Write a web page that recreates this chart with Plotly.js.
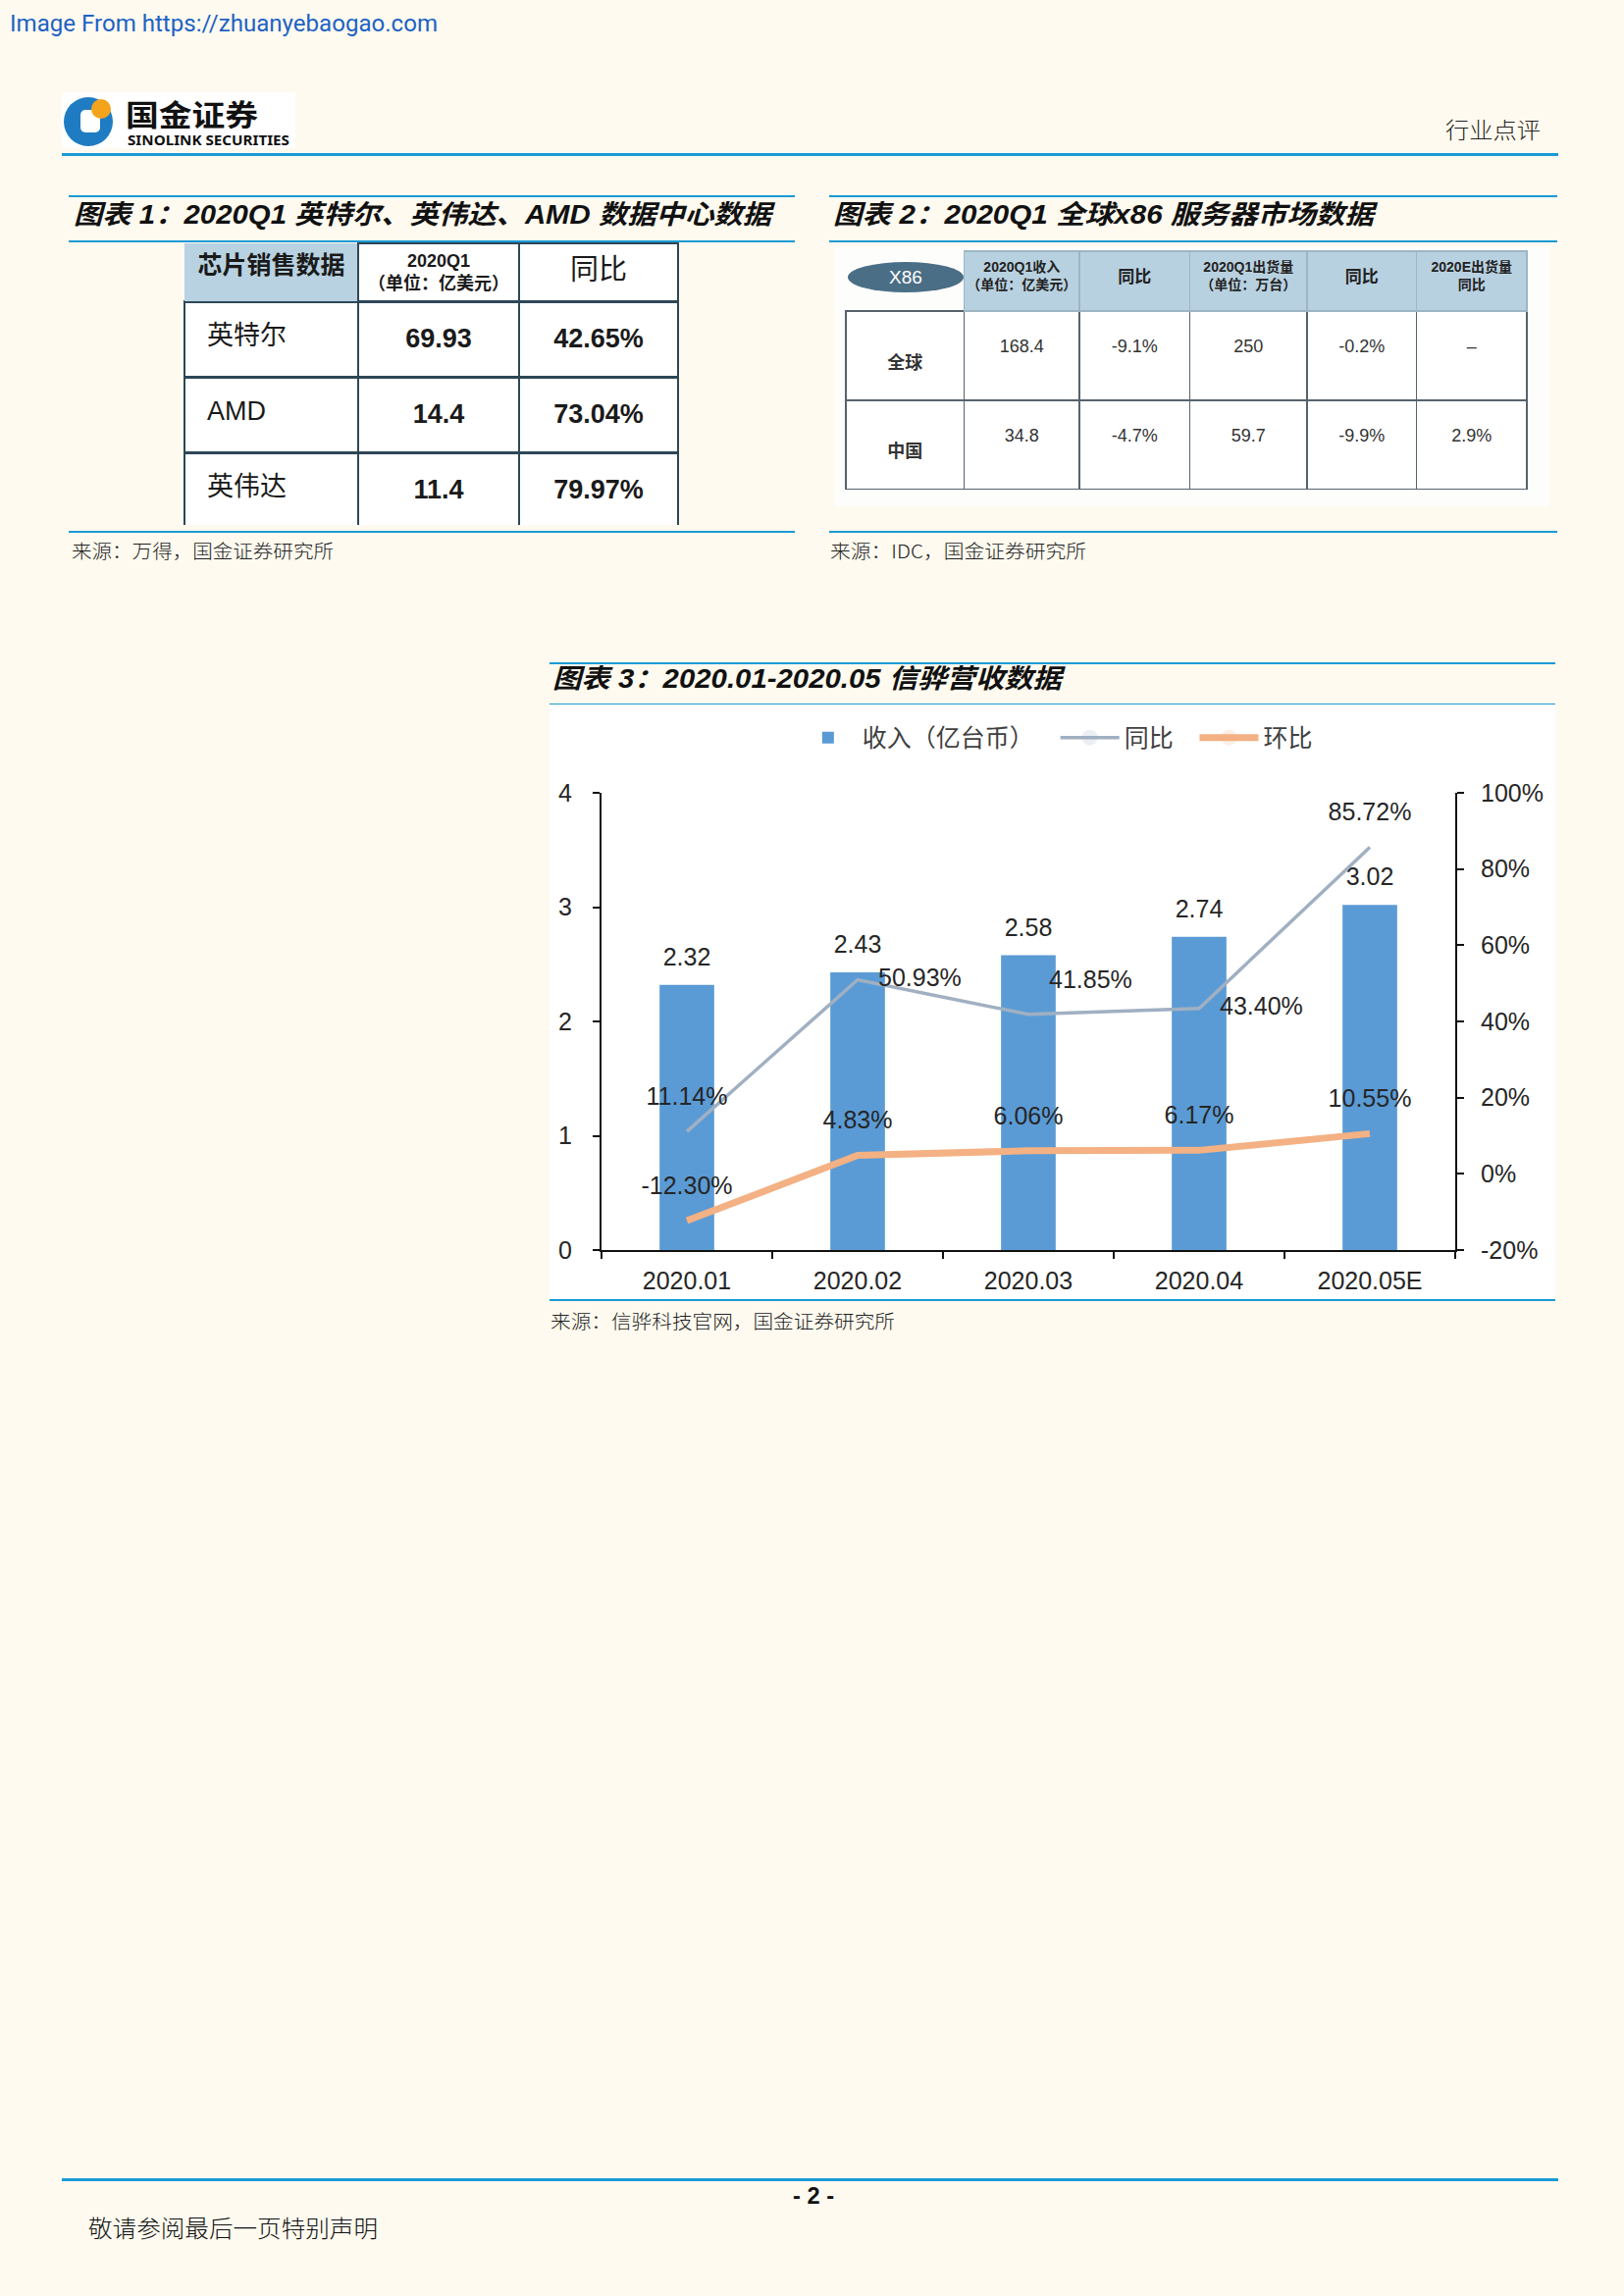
<!DOCTYPE html>
<html>
<head>
<meta charset="utf-8">
<script src="https://cdn.plot.ly/plotly-3.0.1.min.js"></script>
<style>
html,body{margin:0;padding:0;}
body{width:1655px;height:2340px;background:#fefaef;position:relative;overflow:hidden;font-family:"Liberation Sans","Noto Sans CJK SC",sans-serif;}
.t{position:absolute;white-space:nowrap;transform-origin:0 50%;line-height:1.0;z-index:5;}
.rule{position:absolute;background:#1b9ad6;}
.ttl{font-weight:bold;font-style:italic;font-size:27px;color:#111;font-family:"Liberation Sans","Noto Sans CJK SC",sans-serif;}
.src{font-size:19px;color:#222;font-family:"Noto Sans CJK SC",sans-serif;font-weight:300;}
#chart3{position:absolute;left:560px;top:718px;width:1025px;height:606px;}
#tbl1{position:absolute;left:186px;top:246px;width:507px;height:291px;}
#tbl2{position:absolute;left:851px;top:251px;width:728px;height:265px;}
#oval{position:absolute;left:864px;top:267px;width:118px;height:31px;border-radius:50%;background:#4a6e85;color:#fff;font:19px "Liberation Sans Narrow","Liberation Sans",sans-serif;text-align:center;line-height:31px;z-index:6;}
</style>
</head>
<body>
<script>
// ---------- data ----------
const months = ['2020.01', '2020.02', '2020.03', '2020.04', '2020.05E'];
const revenue = [2.32, 2.43, 2.58, 2.74, 3.02];      // 收入（亿台币）
const yoy = [11.14, 50.93, 41.85, 43.40, 85.72];      // 同比 %
const mom = [-12.30, 4.83, 6.06, 6.17, 10.55];        // 环比 %
const seriesNames = ['收入（亿台币）', '同比', '环比'];
const rightTicks = [-20, 0, 20, 40, 60, 80, 100];

const t1Header = ['芯片销售数据', '2020Q1', '同比'];
const t1HeaderUnit = ['', '（单位：亿美元）', ''];
const t1Companies = ['英特尔', 'AMD', '英伟达'];
const t1Revenue = ['69.93', '14.4', '11.4'];
const t1Yoy = ['42.65%', '73.04%', '79.97%'];

const t2Header = ['X86', '2020Q1收入', '同比', '2020Q1出货量', '同比', '2020E出货量'];
const t2HeaderUnit = ['', '（单位：亿美元）', '', '（单位：万台）', '', '同比'];
const t2Regions = ['全球', '中国'];
const t2Revenue = ['168.4', '34.8'];
const t2RevYoy = ['-9.1%', '-4.7%'];
const t2Ship = ['250', '59.7'];
const t2ShipYoy = ['-0.2%', '-9.9%'];
const t2Ship2020E = ['–', '2.9%'];
</script>

<!-- header -->
<div class="t" data-x="10" data-y="24" data-w="436" style="font-family:Roboto,sans-serif;font-size:24px;color:#1d62c4;">Image From https://zhuanyebaogao.com</div>
<div style="position:absolute;left:63px;top:94px;width:238px;height:57px;background:#fff;">
  <svg width="60" height="57" style="position:absolute;left:0;top:0">
    <circle cx="27" cy="30" r="25" fill="#1f7cc2"/>
    <rect x="19" y="18" width="20" height="23" rx="5" fill="#ffffff"/>
    <circle cx="40" cy="17" r="10" fill="#f3a41c"/>
  </svg>
</div>
<div class="t" data-x="128" data-y="115" data-w="135" style="font-family:'Noto Sans CJK SC';font-weight:bold;font-size:30px;color:#111;">国金证券</div>
<div class="t" data-x="130" data-y="143" data-w="165" style="font-family:'Noto Sans';font-weight:bold;font-size:14px;color:#111;">SINOLINK SECURITIES</div>
<div class="t" data-x="1473" data-y="131" data-w="97" style="font-family:'Noto Sans CJK SC';font-weight:300;font-size:23px;color:#222;">行业点评</div>
<div class="rule" style="left:63px;top:156px;width:1525px;height:3px;"></div>

<!-- figure 1 -->
<div class="rule" style="left:70px;top:199px;width:740px;height:2px;"></div>
<div class="t ttl" data-x="75" data-y="219" data-w="711">图表 1：2020Q1 英特尔、英伟达、AMD 数据中心数据</div>
<div class="rule" style="left:70px;top:245px;width:740px;height:2px;"></div>
<div id="tbl1"></div>
<div class="rule" style="left:70px;top:541px;width:740px;height:2px;"></div>
<div class="t src" data-x="73" data-y="560" data-w="267">来源：万得，国金证券研究所</div>

<!-- figure 2 -->
<div class="rule" style="left:845px;top:199px;width:742px;height:2px;"></div>
<div class="t ttl" data-x="849" data-y="219" data-w="551">图表 2：2020Q1 全球x86 服务器市场数据</div>
<div class="rule" style="left:845px;top:245px;width:742px;height:2px;"></div>
<div id="tbl2"></div>
<div id="oval"></div>
<div class="rule" style="left:845px;top:541px;width:742px;height:2px;"></div>
<div class="t src" data-x="846" data-y="560" data-w="261">来源：IDC，国金证券研究所</div>

<!-- figure 3 -->
<div class="rule" style="left:560px;top:675px;width:1025px;height:2px;"></div>
<div class="t ttl" data-x="563" data-y="692" data-w="519">图表 3：2020.01-2020.05 信骅营收数据</div>
<div class="rule" style="left:560px;top:717px;width:1025px;height:2px;"></div>
<div id="chart3"></div>
<div class="rule" style="left:560px;top:1324px;width:1025px;height:2px;"></div>
<div class="t src" data-x="561" data-y="1345" data-w="351">来源：信骅科技官网，国金证券研究所</div>

<!-- footer -->
<div class="rule" style="left:63px;top:2220px;width:1525px;height:3px;"></div>
<div class="t" data-x="808" data-y="2238" data-w="42" style="font-weight:bold;font-size:24px;color:#111;">- 2 -</div>
<div class="t" data-x="90" data-y="2270" data-w="295" style="font-family:'Noto Sans CJK SC';font-weight:300;font-size:24px;color:#111;">敬请参阅最后一页特别声明</div>

<script>
const FONT = "'Liberation Sans', 'Noto Sans CJK SC', sans-serif";
const NARROW = "'Liberation Sans Narrow', 'Liberation Sans', 'Noto Sans CJK SC', sans-serif";
const TXT = '#262626';
const pad = '\u00a0';   // nbsp spacing for legend entries

// ---------- chart 3 ----------
const traces = [
  {
    type: 'bar', name: seriesNames[0] + pad.repeat(3), x: months, y: revenue,
    marker: {color: '#5b9bd5'}, width: 0.32, hoverinfo: 'skip'
  },
  {
    type: 'scatter', mode: 'markers+text', showlegend: false, x: months, y: revenue,
    marker: {size: 20, opacity: 0}, text: revenue.map(v => v.toFixed(2)),
    textposition: 'top center', textfont: {size: 25, color: TXT, family: FONT}, cliponaxis: false
  },
  {
    type: 'scatter', mode: 'lines+markers+text', name: seriesNames[1] + pad.repeat(3), x: months, y: yoy, yaxis: 'y2',
    line: {color: '#a0b0c2', width: 3.5}, marker: {size: 32, opacity: 0},
    text: yoy.map(v => v.toFixed(2) + '%'),
    textposition: ['top center', 'middle right', 'top right', 'middle right', 'top center'],
    textfont: {size: 25, color: TXT, family: FONT}, cliponaxis: false
  },
  {
    type: 'scatter', mode: 'lines+markers+text', name: seriesNames[2], x: months, y: mom, yaxis: 'y2',
    line: {color: '#f4b183', width: 7}, marker: {size: 32, opacity: 0},
    text: mom.map(v => v.toFixed(2) + '%'), textposition: 'top center',
    textfont: {size: 25, color: TXT, family: FONT}, cliponaxis: false
  }
];
const axisCommon = {
  showline: true, linecolor: '#111', linewidth: 2, ticks: 'outside', ticklen: 7, tickwidth: 2,
  tickcolor: '#111', showgrid: false, zeroline: false, tickfont: {size: 25, color: TXT, family: FONT}
};
const layout3 = {
  width: 1025, height: 606, margin: {l: 53, r: 102, t: 89, b: 50},
  paper_bgcolor: '#ffffff', plot_bgcolor: '#ffffff', font: {family: FONT, color: TXT},
  showlegend: true,
  legend: {orientation: 'h', x: 0.532, xanchor: 'center', y: 1.118, yanchor: 'middle',
           font: {size: 25, color: '#404040', family: "'Noto Sans CJK SC', sans-serif"}, itemwidth: 60},
  xaxis: Object.assign({}, axisCommon, {type: 'category', tickson: 'boundaries', ticklabelstandoff: 8}),
  yaxis: Object.assign({}, axisCommon, {range: [0, 4], dtick: 1, ticklabelstandoff: 16}),
  yaxis2: Object.assign({}, axisCommon, {overlaying: 'y', side: 'right', range: [-20, 100],
           tickmode: 'array', tickvals: rightTicks, ticktext: rightTicks.map(v => v + '%'), ticklabelstandoff: 12})
};
Plotly.newPlot('chart3', traces, layout3, {staticPlot: true});

// Plotly tables top-align text and left-align the lines of multi-line cells:
// nudge body texts down and centre each line of multi-line header texts.
function nudge(gd, shifts) {
  gd.querySelectorAll('text.cell-text').forEach(t => {
    if (t.dataset.nudged) return;
    const lines = t.querySelectorAll('tspan.line');
    if (lines.length > 1) {
      const widths = Array.from(lines).map(l => l.getComputedTextLength());
      const maxW = Math.max.apply(null, widths);
      lines.forEach((l, i) => {
        const x0 = parseFloat(l.getAttribute('x') || '0');
        l.setAttribute('x', x0 + (maxW - widths[i]) / 2);
      });
      t.dataset.nudged = '1';
      return;
    }
    const key = t.textContent.replace(/\u00a0/g, '').trim();
    if (shifts.has(key)) {
      t.setAttribute('transform', ((t.getAttribute('transform') || '') + ' translate(0,' + shifts.get(key) + ')').trim());
      t.dataset.nudged = '1';
    }
  });
}

// ---------- table 1 ----------
const b = s => '<b>' + s + '</b>';
const shifts1 = new Map();
t1Companies.concat(t1Revenue, t1Yoy).forEach(s => shifts1.set(s, 15));
shifts1.set(t1Header[2], 7);
Plotly.newPlot('tbl1', [{
  type: 'table',
  columnwidth: [177, 164, 162],
  header: {
    values: t1Header.map((h, i) => i === 1 ? b(h) + '<br>' + b(t1HeaderUnit[i]) : (i === 0 ? b(h) : h)),
    height: 54, align: ['center', 'center', 'center'],
    fill: {color: ['#b8d2e1', '#ffffff', '#ffffff']},
    line: {color: ['rgba(0,0,0,0)', '#2d4756', '#2d4756'], width: 2.5},
    font: {family: FONT, size: [25, 18, 29], color: '#1a1a1a'}
  },
  cells: {
    values: [t1Companies.map(s => '\u00a0\u00a0' + s), t1Revenue.map(b), t1Yoy.map(b)],
    height: 77, align: ['left', 'center', 'center'],
    fill: {color: '#ffffff'},
    line: {color: '#2d4756', width: 2.5},
    font: {family: FONT, size: 27, color: '#1a1a1a'}
  },
  domain: {x: [0, 1], y: [0, 1]}
}], {width: 507, height: 291, margin: {l: 2, r: 2, t: 2, b: 2}, paper_bgcolor: 'rgba(0,0,0,0)'}, {staticPlot: true})
  .then(gd => { nudge(gd, shifts1); setTimeout(() => nudge(gd, shifts1), 200); });

// ---------- table 2 ----------
document.getElementById('oval').textContent = t2Header[0];
const shifts2 = new Map();
t2Regions.forEach(s => shifts2.set(s, 34));
t2Revenue.concat(t2RevYoy, t2Ship, t2ShipYoy, t2Ship2020E).forEach(s => shifts2.set(s, 20));
shifts2.set(t2Header[2], 9);
Plotly.newPlot('tbl2', [{
  type: 'table',
  columnwidth: [120, 117, 112, 119, 111, 112],
  header: {
    values: t2Header.map((h, i) => i === 0 ? '' : (t2HeaderUnit[i] ? b(h) + '<br>' + b(t2HeaderUnit[i]) : b(h))),
    height: 61, align: 'center',
    fill: {color: ['rgba(0,0,0,0)', '#b8d1e0', '#b8d1e0', '#b8d1e0', '#b8d1e0', '#b8d1e0']},
    line: {color: ['rgba(0,0,0,0)', '#9fb5c3', '#9fb5c3', '#9fb5c3', '#9fb5c3', '#9fb5c3'], width: 1.5},
    font: {family: NARROW, size: [19, 14, 17, 14, 17, 14], color: '#222'}
  },
  cells: {
    values: [t2Regions.map(b), t2Revenue, t2RevYoy, t2Ship, t2ShipYoy, t2Ship2020E],
    height: 91, align: 'center',
    fill: {color: '#ffffff'},
    line: {color: '#56636d', width: 1.5},
    font: {family: NARROW, size: 18, color: '#333'}
  }
}], {width: 728, height: 265, margin: {l: 11, r: 23, t: 5, b: 17}, paper_bgcolor: '#fdfdfc'}, {staticPlot: true})
  .then(gd => { nudge(gd, shifts2); setTimeout(() => nudge(gd, shifts2), 200); });

// ---------- place page texts ----------
function placeAll() {
  document.querySelectorAll('.t').forEach(el => {
    const x = +el.dataset.x, y = +el.dataset.y, w = +el.dataset.w;
    el.style.left = x + 'px';
    el.style.transform = 'none';
    const r = el.getBoundingClientRect();
    el.style.top = (y - r.height / 2) + 'px';
    if (w) el.style.transform = 'scaleX(' + (w / r.width) + ')';
  });
}
placeAll();
if (document.fonts && document.fonts.ready) document.fonts.ready.then(placeAll);
</script>
</body>
</html>
